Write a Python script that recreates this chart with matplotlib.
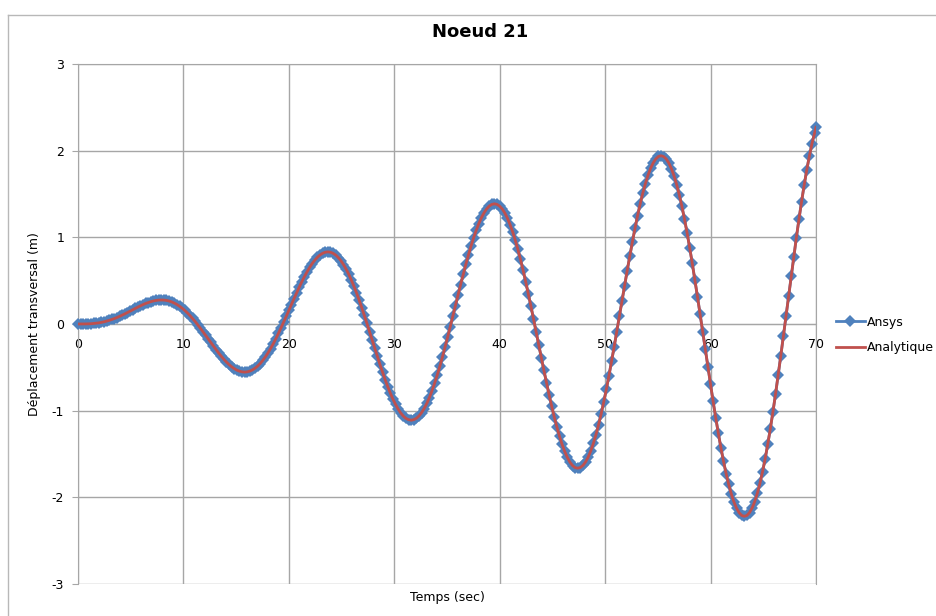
import matplotlib
matplotlib.use('Agg')
import numpy as np
import matplotlib.pyplot as plt
from matplotlib.lines import Line2D

plt.rcParams['font.family'] = ['Liberation Sans Narrow', 'DejaVu Sans']

# Noeud 21 - deplacement transversal (pas ~0.247 s)
dt = 0.246875
ansys = [
    0.000, 0.000, 0.000, 0.001, 0.002, 0.003, 0.006, 0.009, 0.013, 0.019, 0.025, 0.033, 0.042, 0.052, 0.063, 0.075,
    0.088, 0.102, 0.117, 0.132, 0.148, 0.164, 0.179, 0.195, 0.210, 0.224, 0.237, 0.248, 0.258, 0.266, 0.272, 0.276,
    0.277, 0.276, 0.272, 0.265, 0.255, 0.241, 0.225, 0.205, 0.183, 0.157, 0.129, 0.098, 0.064, 0.029, -0.009, -0.048,
    -0.088, -0.130, -0.171, -0.213, -0.254, -0.295, -0.334, -0.371, -0.406, -0.438, -0.467, -0.493, -0.514, -0.532, -0.544, -0.552,
    -0.555, -0.552, -0.544, -0.530, -0.511, -0.486, -0.456, -0.420, -0.379, -0.333, -0.283, -0.229, -0.171, -0.109, -0.045, 0.021,
    0.088, 0.157, 0.225, 0.293, 0.360, 0.425, 0.488, 0.547, 0.602, 0.652, 0.698, 0.737, 0.771, 0.797, 0.816, 0.828,
    0.832, 0.828, 0.816, 0.796, 0.767, 0.731, 0.686, 0.634, 0.575, 0.509, 0.437, 0.359, 0.277, 0.190, 0.099, 0.007,
    -0.088, -0.184, -0.279, -0.374, -0.466, -0.556, -0.642, -0.723, -0.798, -0.867, -0.928, -0.982, -1.027, -1.063, -1.089, -1.104,
    -1.110, -1.104, -1.088, -1.061, -1.023, -0.975, -0.917, -0.849, -0.771, -0.685, -0.591, -0.490, -0.383, -0.270, -0.154, -0.034,
    0.088, 0.211, 0.334, 0.454, 0.573, 0.687, 0.796, 0.899, 0.994, 1.081, 1.159, 1.227, 1.283, 1.328, 1.361, 1.380,
    1.387, 1.380, 1.360, 1.327, 1.280, 1.220, 1.147, 1.063, 0.967, 0.861, 0.745, 0.621, 0.489, 0.351, 0.208, 0.061,
    -0.088, -0.238, -0.388, -0.535, -0.679, -0.818, -0.950, -1.075, -1.190, -1.296, -1.390, -1.471, -1.539, -1.594, -1.633, -1.657,
    -1.664, -1.656, -1.632, -1.592, -1.536, -1.465, -1.378, -1.278, -1.164, -1.037, -0.899, -0.752, -0.595, -0.431, -0.262, -0.088,
    0.088, 0.265, 0.442, 0.616, 0.785, 0.948, 1.104, 1.251, 1.387, 1.510, 1.620, 1.716, 1.796, 1.859, 1.905, 1.933,
    1.942, 1.932, 1.904, 1.857, 1.792, 1.709, 1.609, 1.492, 1.360, 1.213, 1.054, 0.882, 0.701, 0.512, 0.316, 0.115,
    -0.088, -0.293, -0.496, -0.696, -0.891, -1.079, -1.258, -1.427, -1.583, -1.725, -1.851, -1.961, -2.052, -2.124, -2.177, -2.209,
    -2.219, -2.209, -2.176, -2.123, -2.049, -1.954, -1.839, -1.706, -1.556, -1.389, -1.208, -1.013, -0.808, -0.592, -0.370, -0.142,
    0.088, 0.320, 0.550, 0.777, 0.997, 1.210, 1.412, 1.603, 1.779, 1.939, 2.082, 2.205,
]
t_fin, x_fin = 70.0, 2.27   # dernier point a t = 70 s
analytique = ansys  # les deux courbes se superposent

temps = np.append(np.arange(len(ansys)) * dt, t_fin)
ansys_y = np.append(ansys, x_fin)
analytique_y = np.append(analytique, x_fin)

x_ticks = [0, 10, 20, 30, 40, 50, 60, 70]
y_ticks = [-3, -2, -1, 0, 1, 2, 3]

fig = plt.figure(figsize=(9.36, 6.16), dpi=100)
ax = fig.add_axes([78/936, 1 - 584/616, (816-78)/936, (584-64)/616])

grid_col = '#a6a6a6'
ax.plot(temps, ansys_y, color='#4F81BD', lw=2, marker='D', ms=6,
        markeredgewidth=0, label='Ansys', zorder=3, clip_on=False)
ax.plot(temps, analytique_y, color='#C0504D', lw=2, label='Analytique', zorder=4)

ax.set_xlim(0, 70)
ax.set_ylim(-3, 3)
ax.set_xticks(x_ticks)
ax.set_yticks(y_ticks)
ax.set_yticklabels([str(v) for v in y_ticks])
ax.grid(True, color=grid_col, lw=1)
ax.set_axisbelow(True)

for side in ['top', 'right', 'left']:
    ax.spines[side].set_color(grid_col)
ax.spines['bottom'].set_position(('data', 0))
ax.spines['bottom'].set_color(grid_col)
ax.tick_params(axis='x', length=0, pad=10, labelsize=9)
ax.tick_params(axis='y', length=4, color=grid_col, direction='out', pad=6, labelsize=9)

fig.text(35/936, 1 - 324/616, 'Déplacement transversal (m)', rotation=90,
         ha='center', va='center', fontsize=9)
fig.text(447/936, 1 - 598/616, 'Temps (sec)', ha='center', va='center', fontsize=9)
fig.text(480/936, 1 - 32/616, 'Noeud 21', ha='center', va='center',
         fontsize=13, fontweight='bold')

fig.legend(loc='center left', bbox_to_anchor=(836/936, 1 - 335/616), frameon=False,
           fontsize=9, handlelength=2.3, handletextpad=0.15, labelspacing=1.0,
           borderpad=0, borderaxespad=0)

# cadre de la zone de graphique
fig.add_artist(Line2D([8/936, 8/936], [0, 1 - 15/616], color='#b8b8b8', lw=1))
fig.add_artist(Line2D([8/936, 1], [1 - 15/616, 1 - 15/616], color='#b8b8b8', lw=1))

fig.savefig('out.png', dpi=100)
